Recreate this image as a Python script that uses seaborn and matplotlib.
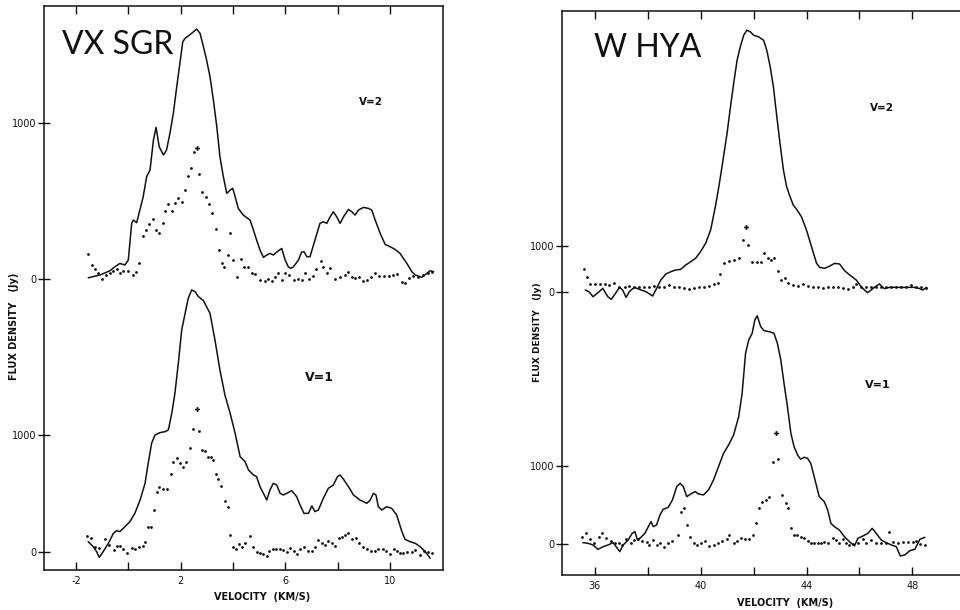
import matplotlib
matplotlib.use("Agg")
import matplotlib.pyplot as plt
import seaborn as sns
from matplotlib.ticker import FixedLocator

# ---- VX SGR, v=2 ----
vx_v2_vel = [-1.53, -1.08, -0.70, -0.51, -0.32, -0.13, 0.00, 0.13, 0.19, 0.32, 0.57, 0.70, 0.83, 0.96, 1.06,
             1.18, 1.34, 1.46, 1.59, 1.72, 1.85, 1.97, 2.08, 2.17, 2.29, 2.42, 2.61, 2.74, 2.87, 2.99, 3.12,
             3.25, 3.38, 3.50, 3.63, 3.76, 3.89, 3.99, 4.08, 4.20, 4.39, 4.65, 4.78, 4.90, 5.03, 5.16, 5.29,
             5.41, 5.54, 5.73, 5.86, 5.99, 6.11, 6.20, 6.31, 6.50, 6.62, 6.71, 6.82, 6.94, 7.13, 7.32, 7.45,
             7.58, 7.71, 7.83, 7.96, 8.09, 8.22, 8.41, 8.54, 8.66, 8.79, 8.98, 9.17, 9.30, 9.43, 9.62, 9.81,
             10.00, 10.19, 10.38, 10.64, 10.83, 10.96, 11.08, 11.21, 11.40, 11.53, 11.66]
vx_v2_flux = [6, 24, 51, 77, 98, 88, 120, 355, 376, 359, 526, 654, 697, 889, 970, 846, 793, 825, 932, 1060,
              1231, 1380, 1519, 1541, 1556, 1573, 1600, 1573, 1487, 1402, 1295, 1145, 974, 782, 654, 547, 568,
              579, 526, 451, 408, 376, 312, 248, 184, 137, 152, 162, 152, 179, 194, 120, 77, 66, 77, 120, 171,
              173, 141, 141, 248, 355, 365, 355, 397, 429, 397, 355, 397, 444, 429, 408, 440, 457, 451, 440,
              376, 291, 220, 205, 188, 162, 98, 45, 24, 17, 9, 34, 51, 45]
vx_v2_dot_vel = [-1.53, -1.40, -1.27, -1.15, -1.02, -0.85, -0.70, -0.57, -0.42, -0.32, -0.19, 0.00, 0.17, 0.29,
                 0.42, 0.55, 0.68, 0.80, 0.93, 1.06, 1.18, 1.31, 1.40, 1.53, 1.66, 1.78, 1.91, 2.04, 2.17, 2.29,
                 2.39, 2.52, 2.71, 2.82, 2.97, 3.10, 3.20, 3.35, 3.48, 3.57, 3.66, 3.82, 3.89, 4.01, 4.14, 4.29,
                 4.42, 4.59, 4.71, 4.84, 5.03, 5.22, 5.35, 5.48, 5.61, 5.73, 5.86, 5.99, 6.15, 6.31, 6.47, 6.62,
                 6.75, 6.92, 7.04, 7.17, 7.35, 7.45, 7.58, 7.71, 7.90, 8.09, 8.28, 8.41, 8.54, 8.66, 8.83, 8.98,
                 9.11, 9.26, 9.43, 9.59, 9.75, 9.94, 10.10, 10.25, 10.45, 10.57, 10.74, 10.89, 11.08, 11.27,
                 11.43, 11.59]
vx_v2_dot_flux = [158, 88, 60, 34, -4, 24, 34, 51, 60, 34, 51, 51, 24, 45, 98, 274, 312, 350, 380, 312, 291,
                  355, 436, 479, 436, 483, 515, 494, 568, 658, 707, 814, 671, 558, 526, 479, 419, 316, 184, 98,
                  77, 152, 291, 120, 13, 124, 77, 77, 38, 30, -9, -13, -4, -13, 13, 34, -9, 34, 24, -9, -4, -9,
                  34, -4, 17, 60, 115, 77, 34, 66, -4, 13, 24, 45, 13, 2, 13, -13, -9, 13, 34, 17, 17, 17, 24,
                  30, -19, -30, 2, 17, 13, 24, 38, 45]
vx_v2_peak = [2.64, 835]

# ---- VX SGR, v=1 ----
vx_v1_vel = [-1.53, -1.34, -1.21, -1.11, -0.96, -0.76, -0.57, -0.45, -0.32, -0.13, 0.06, 0.25, 0.45, 0.64,
             0.76, 0.89, 1.02, 1.21, 1.40, 1.53, 1.66, 1.78, 1.91, 2.04, 2.17, 2.29, 2.42, 2.55, 2.68, 2.87,
             3.12, 3.31, 3.50, 3.69, 3.89, 4.08, 4.27, 4.46, 4.59, 4.78, 4.90, 5.03, 5.16, 5.29, 5.41, 5.54,
             5.67, 5.80, 5.92, 6.05, 6.24, 6.43, 6.56, 6.71, 6.88, 7.01, 7.13, 7.26, 7.45, 7.64, 7.83, 7.99,
             8.09, 8.22, 8.41, 8.60, 8.85, 9.11, 9.24, 9.36, 9.46, 9.55, 9.68, 9.87, 10.06, 10.25, 10.45,
             10.57, 10.76, 10.96, 11.15, 11.34, 11.53]
vx_v1_flux = [91, 48, 6, -43, 6, 77, 162, 185, 177, 219, 262, 333, 447, 590, 761, 932, 1003, 1023, 1031,
              1046, 1188, 1359, 1615, 1900, 2043, 2171, 2242, 2228, 2185, 2151, 2043, 1815, 1558, 1345, 1188,
              1017, 818, 775, 704, 661, 647, 561, 504, 447, 533, 590, 575, 504, 490, 504, 527, 476, 405, 333,
              333, 396, 348, 362, 462, 547, 575, 647, 661, 624, 561, 490, 447, 419, 447, 504, 490, 390, 362,
              390, 376, 319, 177, 111, 91, 77, 48, 6, -51]
vx_v1_dot_vel = [-1.57, -1.44, -1.27, -1.11, -0.89, -0.73, -0.55, -0.42, -0.32, -0.19, -0.06, 0.13, 0.25, 0.42,
                 0.55, 0.64, 0.76, 0.85, 0.98, 1.08, 1.18, 1.34, 1.49, 1.62, 1.72, 1.85, 1.97, 2.08, 2.20, 2.36,
                 2.48, 2.71, 2.82, 2.94, 3.06, 3.15, 3.25, 3.35, 3.44, 3.53, 3.69, 3.80, 3.89, 3.99, 4.11, 4.22,
                 4.33, 4.46, 4.65, 4.75, 4.90, 5.03, 5.16, 5.29, 5.39, 5.52, 5.64, 5.80, 5.92, 6.05, 6.18, 6.31,
                 6.43, 6.56, 6.71, 6.88, 7.01, 7.13, 7.26, 7.39, 7.52, 7.64, 7.77, 7.90, 8.03, 8.15, 8.28, 8.41,
                 8.54, 8.70, 8.83, 8.98, 9.11, 9.26, 9.43, 9.55, 9.72, 9.85, 10.00, 10.13, 10.25, 10.38, 10.51,
                 10.66, 10.83, 10.96, 11.13, 11.29, 11.43, 11.59]
vx_v1_dot_flux = [142, 120, 48, 40, 111, 63, 20, 57, 54, 26, -9, 34, 26, 48, 57, 85, 214, 214, 362, 513, 561,
                  538, 538, 670, 775, 803, 761, 732, 775, 889, 1051, 1040, 875, 869, 812, 818, 789, 670, 627,
                  567, 439, 385, 148, 48, 26, 71, 48, 77, 140, 48, 6, -3, -14, -31, 14, 26, 26, 31, 20, 6, 40,
                  14, -14, 26, 48, 14, 14, 48, 105, 77, 63, 94, 77, 54, 120, 134, 148, 162, 111, 120, 77, 48,
                  26, 14, 14, 26, 26, 14, -14, 26, 14, -9, -9, 6, 6, 20, -23, 14, 6, -3]
vx_v1_peak = [2.61, 1222]

# ---- W HYA, v=2 ----
wh_v2_vel = [35.65, 35.79, 35.94, 36.13, 36.31, 36.50, 36.63, 36.79, 36.94, 37.06, 37.19, 37.31, 37.50,
             37.69, 37.94, 38.19, 38.31, 38.50, 38.69, 38.88, 39.06, 39.25, 39.44, 39.63, 39.81, 40.00, 40.19,
             40.38, 40.56, 40.69, 40.81, 41.00, 41.13, 41.25, 41.38, 41.50, 41.63, 41.75, 41.88, 42.00, 42.19,
             42.38, 42.50, 42.63, 42.75, 42.88, 43.00, 43.13, 43.25, 43.38, 43.50, 43.63, 43.81, 44.00, 44.19,
             44.38, 44.50, 44.69, 44.88, 45.06, 45.25, 45.44, 45.63, 45.88, 46.06, 46.19, 46.31, 46.44, 46.56,
             46.75, 46.94, 47.13, 47.31, 47.56, 47.81, 48.06, 48.25, 48.38, 48.54]
wh_v2_flux = [43, 7, -101, -14, 79, -101, -158, -29, 101, 43, -115, 7, 101, 58, 7, -86, 43, 259, 388, 439,
              475, 489, 583, 655, 727, 871, 1050, 1338, 1842, 2273, 2705, 3424, 4000, 4504, 5007, 5295, 5547,
              5655, 5619, 5547, 5511, 5439, 5223, 4863, 4432, 3784, 3209, 2633, 2273, 2058, 1878, 1784, 1626,
              1338, 978, 619, 532, 511, 561, 619, 604, 460, 367, 259, 115, 43, -14, 43, 101, 173, 72, 101, 101,
              101, 101, 101, 79, 43, 101]
wh_v2_dot_vel = [35.59, 35.71, 35.81, 36.00, 36.19, 36.38, 36.56, 36.75, 36.94, 37.13, 37.31, 37.50, 37.69,
                 37.88, 38.06, 38.25, 38.44, 38.63, 38.81, 39.00, 39.19, 39.38, 39.56, 39.75, 39.94, 40.13,
                 40.31, 40.50, 40.66, 40.75, 40.88, 41.06, 41.25, 41.44, 41.59, 41.81, 41.94, 42.13, 42.29,
                 42.41, 42.54, 42.66, 42.79, 42.91, 43.04, 43.19, 43.31, 43.50, 43.69, 43.88, 44.06, 44.25,
                 44.44, 44.63, 44.81, 45.00, 45.19, 45.38, 45.56, 45.75, 45.88, 46.06, 46.25, 46.44, 46.63,
                 46.81, 47.00, 47.19, 47.38, 47.56, 47.75, 47.94, 48.13, 48.31, 48.50]
wh_v2_dot_flux = [489, 331, 173, 173, 173, 173, 151, 187, 115, 101, 129, 101, 101, 115, 101, 129, 115, 101,
                  151, 115, 101, 79, 58, 79, 101, 115, 129, 173, 201, 388, 619, 676, 691, 727, 1122, 1014, 655,
                  640, 655, 835, 727, 691, 727, 460, 259, 295, 201, 151, 129, 173, 129, 101, 101, 79, 101, 101,
                  101, 79, 58, 101, 173, 101, 101, 101, 101, 101, 101, 101, 101, 101, 115, 151, 101, 101, 79]
wh_v2_peak = [41.71, 1410]

# ---- W HYA, v=1 ----
wh_v1_vel = [35.56, 35.75, 35.94, 36.13, 36.32, 36.51, 36.70, 36.86, 36.95, 37.08, 37.27, 37.42, 37.52,
             37.62, 37.75, 37.90, 38.03, 38.13, 38.22, 38.34, 38.47, 38.59, 38.78, 38.94, 39.10, 39.23, 39.35,
             39.48, 39.67, 39.80, 39.92, 40.11, 40.30, 40.49, 40.68, 40.87, 41.06, 41.25, 41.44, 41.57, 41.70,
             41.82, 41.95, 42.05, 42.14, 42.27, 42.39, 42.58, 42.77, 42.90, 43.03, 43.15, 43.28, 43.41, 43.53,
             43.66, 43.78, 43.91, 44.04, 44.16, 44.29, 44.48, 44.67, 44.80, 44.92, 45.05, 45.24, 45.43, 45.62,
             45.81, 45.94, 46.13, 46.32, 46.48, 46.63, 46.82, 47.01, 47.20, 47.39, 47.54, 47.71, 47.90, 48.09,
             48.28, 48.47]
wh_v1_flux = [21, 13, -8, -64, -30, -8, 21, -51, -93, -8, 55, 140, 161, 55, 89, 140, 225, 288, 225, 246, 373,
              445, 470, 564, 733, 775, 733, 606, 648, 669, 640, 627, 691, 818, 987, 1157, 1263, 1390, 1623,
              1919, 2428, 2597, 2682, 2852, 2903, 2767, 2716, 2703, 2682, 2555, 2343, 2047, 1750, 1411, 1242,
              1136, 1081, 1106, 1093, 1030, 860, 606, 542, 436, 267, 225, 182, 97, 34, -21, 76, 106, 140, 203,
              140, 55, 21, -8, -30, -148, -136, -81, -64, 64, 89]
wh_v1_dot_vel = [35.52, 35.68, 35.81, 35.97, 36.15, 36.28, 36.44, 36.61, 36.76, 36.91, 37.04, 37.20, 37.37,
                 37.49, 37.65, 37.80, 37.96, 38.05, 38.22, 38.34, 38.47, 38.63, 38.78, 38.94, 39.14, 39.27,
                 39.39, 39.48, 39.61, 39.77, 39.86, 40.03, 40.18, 40.33, 40.49, 40.66, 40.81, 41.00, 41.09,
                 41.25, 41.38, 41.51, 41.67, 41.82, 41.97, 42.10, 42.20, 42.33, 42.46, 42.58, 42.73, 42.94,
                 43.09, 43.22, 43.32, 43.41, 43.53, 43.66, 43.78, 43.91, 44.04, 44.16, 44.29, 44.42, 44.54,
                 44.67, 44.80, 44.99, 45.11, 45.24, 45.37, 45.49, 45.62, 45.75, 45.94, 46.13, 46.25, 46.44,
                 46.63, 46.82, 47.01, 47.11, 47.27, 47.46, 47.65, 47.85, 48.03, 48.15, 48.28, 48.47]
wh_v1_dot_flux = [97, 140, 64, 21, 89, 140, 76, 47, 21, 21, -8, 64, 21, 55, 64, 47, 34, -8, 55, -8, 21, -30,
                  21, 47, 119, 415, 458, 246, 97, 13, -8, 21, 47, -21, -8, 21, 47, 64, 119, 21, 47, 76, 64, 64,
                  119, 267, 458, 542, 564, 606, 1051, 1081, 627, 521, 458, 203, 119, 119, 97, 76, 47, 21, 13,
                  21, 21, 34, 21, 76, 55, 13, 64, 21, -8, 4, 13, 64, 21, 55, 13, 21, 21, 161, 34, 21, 34, 34,
                  34, 47, 4, -8]
wh_v1_peak = [42.84, 1411]

vx_major = [-2, 2, 6, 10]
vx_minor = [0, 4, 8]
wh_major = [36, 40, 44, 48]
wh_minor = [38, 42, 46]
flux_ticks = [0, 1000]

sns.set_style("white")
plt.rcParams['font.family'] = ['DejaVu Sans']

INK = "#111111"
TICK_FONT = dict(family="DejaVu Sans", size=7)
TITLE_FONT = dict(family=["Lato", "DejaVu Sans"], weight="normal", size=23)


def spectrum(fig, rect, xlim, ylim, vel, flux, dvel, dflux, peak, frame):
    ax = fig.add_axes(rect)
    sns.lineplot(x=vel, y=flux, ax=ax, color=INK, lw=1.1, sort=False, estimator=None)
    sns.scatterplot(x=dvel, y=dflux, ax=ax, color=INK, s=4, linewidth=0)
    ax.plot(peak[0], peak[1], marker="P", ms=3.5, color=INK, mew=0)
    ax.set_xlim(xlim)
    ax.set_ylim(ylim)
    ax.set_xlabel("")
    ax.set_ylabel("")
    ax.set_yticks(flux_ticks)
    ax.set_yticklabels([str(t) for t in flux_ticks], fontdict=TICK_FONT)
    ax.yaxis.set_minor_locator(FixedLocator([0]))
    ax.tick_params(axis="y", which="major", left=True, right=False, direction="inout",
                   length=9, width=1, pad=1, colors=INK)
    ax.tick_params(axis="y", which="minor", left=False, right=True, direction="in",
                   length=7, width=1, color=INK)
    if frame:
        for s in ax.spines.values():
            s.set_color(INK)
            s.set_linewidth(1.1)
    else:
        ax.set_frame_on(False)
        ax.patch.set_alpha(0)
        ax.tick_params(axis="x", which="both", bottom=False, top=False, labelbottom=False)
    return ax


def x_axis(ax, major, minor):
    ax.set_xticks(major)
    ax.set_xticklabels([str(t) for t in major], fontdict=TICK_FONT)
    ax.set_xticks(minor, minor=True)
    ax.tick_params(axis="x", which="both", top=True, bottom=True, direction="in",
                   length=6, width=1, pad=4, colors=INK)


fig = plt.figure(figsize=(9.6, 6.1), dpi=100)

# left panel: VX SGR
left_rect = [44 / 960, 40 / 610, 399 / 960, 564 / 610]
ax_a = spectrum(fig, left_rect, (-3.22, 12.02), (-151, 4669), vx_v1_vel, vx_v1_flux,
                vx_v1_dot_vel, vx_v1_dot_flux, vx_v1_peak, True)
x_axis(ax_a, vx_major, vx_minor)
ax_b = spectrum(fig, left_rect, (-3.22, 12.02), (-1867, 1748), vx_v2_vel, vx_v2_flux,
                vx_v2_dot_vel, vx_v2_dot_flux, vx_v2_peak, False)
ax_a.text(0.046, 0.958, "VX SGR", transform=ax_a.transAxes, ha="left", va="top",
          color=INK, **TITLE_FONT)
ax_a.text(0.82, 0.83, "V=2", transform=ax_a.transAxes, ha="center", va="center",
          fontsize=7.5, fontweight="bold", color=INK)
ax_a.text(0.69, 0.342, "V=1", transform=ax_a.transAxes, ha="center", va="center",
          fontsize=9, fontweight="bold", color=INK)

# right panel: W HYA
right_rect = [562 / 960, 35 / 610, 400 / 960, 564.3 / 610]
ax_c = spectrum(fig, right_rect, (34.77, 49.87), (-390, 6780), wh_v1_vel, wh_v1_flux,
                wh_v1_dot_vel, wh_v1_dot_flux, wh_v1_peak, True)
x_axis(ax_c, wh_major, wh_minor)
ax_d = spectrum(fig, right_rect, (34.77, 49.87), (-6112, 6076), wh_v2_vel, wh_v2_flux,
                wh_v2_dot_vel, wh_v2_dot_flux, wh_v2_peak, False)
ax_c.text(0.08, 0.96, "W HYA", transform=ax_c.transAxes, ha="left", va="top",
          color=INK, **TITLE_FONT)
ax_c.text(0.80, 0.828, "V=2", transform=ax_c.transAxes, ha="center", va="center",
          fontsize=7.5, fontweight="bold", color=INK)
ax_c.text(0.79, 0.337, "V=1", transform=ax_c.transAxes, ha="center", va="center",
          fontsize=8, fontweight="bold", color=INK)

# axis titles
fig.text(262 / 960, 1 - 597 / 610, "VELOCITY  (KM/S)", ha="center", va="center",
         fontsize=7, fontweight="bold", color=INK)
fig.text(785 / 960, 1 - 603 / 610, "VELOCITY  (KM/S)", ha="center", va="center",
         fontsize=7, fontweight="bold", color=INK)
fig.text(14 / 960, 1 - 326 / 610, "FLUX DENSITY   (Jy)", ha="center", va="center",
         rotation=90, fontsize=7, fontweight="bold", color=INK)
fig.text(537 / 960, 1 - 332 / 610, "FLUX DENSITY   (Jy)", ha="center", va="center",
         rotation=90, fontsize=6.5, fontweight="bold", color=INK)

fig.savefig("out.png", dpi=100)
